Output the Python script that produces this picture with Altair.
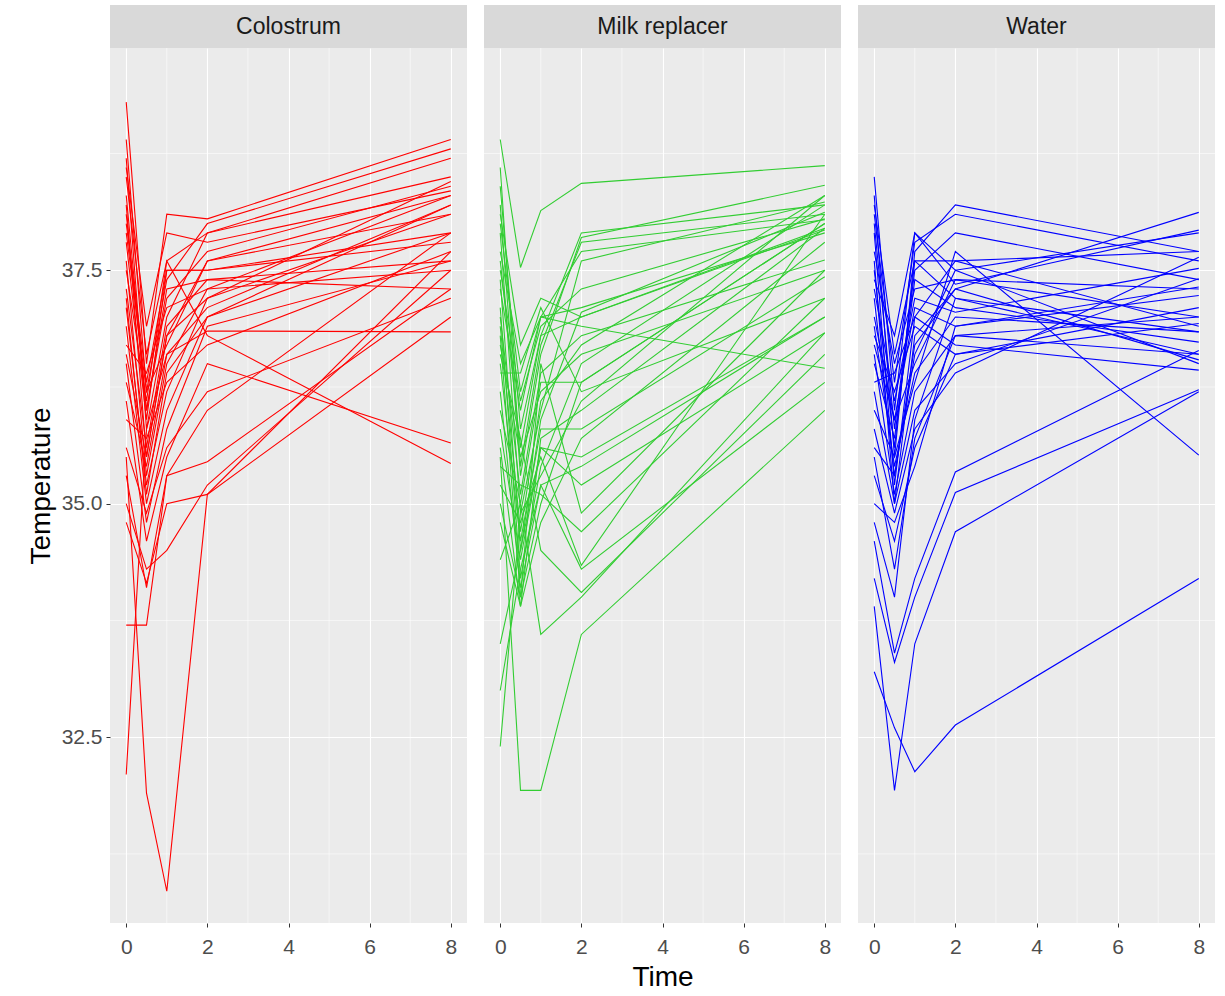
import altair as alt
import pandas as pd

# ---------------- data ----------------
times = [0, 0.5, 1, 2, 8]
groups = ["Colostrum", "Milk replacer", "Water"]
colors = ["#FF0000", "#32CD32", "#0000FF"]

colostrum = [
    [39.3, 36.5, 38.1, 38.05, 38.9],
    [38.9, 36.2, 37.4, 38.0, 38.8],
    [38.7, 35.8, 37.0, 37.9, 38.7],
    [38.5, 36.6, 37.6, 37.9, 38.5],
    [38.3, 36.0, 37.2, 37.7, 38.4],
    [38.2, 35.5, 36.8, 37.6, 38.3],
    [38.0, 36.3, 37.5, 37.5, 37.9],
    [37.8, 35.9, 37.5, 37.5, 37.8],
    [37.6, 35.3, 36.5, 37.3, 38.3],
    [37.5, 36.1, 37.6, 36.8, 35.43],
    [37.3, 35.6, 36.9, 37.4, 37.6],
    [37.1, 35.2, 36.2, 37.2, 38.1],
    [36.9, 35.0, 36.0, 37.0, 38.2],
    [36.7, 36.4, 37.1, 37.3, 37.5],
    [36.5, 34.8, 35.8, 36.9, 37.6],
    [36.3, 35.4, 36.6, 36.85, 36.84],
    [36.1, 34.6, 35.5, 36.5, 35.65],
    [35.9, 35.7, 36.3, 36.7, 37.7],
    [35.6, 34.9, 35.6, 36.2, 37.2],
    [35.3, 34.1, 35.3, 35.45, 37.3],
    [35.0, 34.3, 34.5, 35.2, 37.5],
    [33.7, 33.7, 35.3, 36.0, 37.9],
    [34.8, 34.15, 35.0, 35.1, 37.0],
    [35.5, 31.9, 30.85, 35.1, 37.7],
    [32.1, 35.8, 36.6, 37.1, 38.2],
    [38.6, 36.9, 37.9, 37.8, 38.35],
    [37.2, 35.1, 36.4, 37.0, 37.9],
    [36.6, 35.5, 36.8, 37.2, 38.45],
    [38.1, 36.0, 37.3, 37.4, 37.3],
    [37.9, 36.2, 36.7, 37.6, 38.1],
]

milk_replacer = [
    [38.9, 37.53, 38.14, 38.43, 38.62],
    [38.4, 35.8, 36.8, 37.9, 38.2],
    [38.2, 35.3, 36.6, 37.85, 38.41],
    [38.0, 36.2, 37.0, 37.7, 38.04],
    [37.9, 34.9, 36.0, 37.6, 38.23],
    [37.7, 36.5, 37.0, 37.1, 37.9],
    [37.6, 35.6, 36.8, 37.0, 37.93],
    [37.4, 34.5, 35.9, 37.05, 38.12],
    [37.3, 36.0, 37.0, 36.9, 36.45],
    [37.1, 34.2, 35.4, 36.5, 38.2],
    [37.0, 35.1, 36.4, 36.8, 37.61],
    [36.8, 34.0, 35.0, 36.3, 38.0],
    [36.7, 35.5, 36.2, 36.6, 37.5],
    [36.5, 34.6, 35.8, 35.8, 37.43],
    [36.4, 36.4, 37.1, 36.2, 37.2],
    [36.2, 34.1, 35.2, 35.4, 37.0],
    [36.0, 35.0, 36.3, 36.3, 38.0],
    [35.8, 34.4, 35.6, 35.2, 36.83],
    [35.6, 33.9, 34.8, 35.7, 37.8],
    [35.4, 35.2, 35.1, 34.7, 37.2],
    [35.2, 34.8, 35.5, 34.34, 38.1],
    [35.0, 34.0, 36.5, 34.9, 37.5],
    [34.8, 33.9, 35.7, 36.0, 37.95],
    [34.4, 35.0, 33.6, 34.0, 36.83],
    [33.5, 34.5, 35.6, 35.5, 37.0],
    [33.0, 34.3, 35.2, 34.3, 36.3],
    [32.4, 34.9, 35.3, 36.1, 38.3],
    [35.5, 31.93, 31.93, 33.6, 36.0],
    [36.6, 35.7, 34.5, 34.05, 36.6],
    [37.5, 36.1, 36.9, 37.3, 38.05],
    [38.6, 35.4, 36.7, 37.8, 38.1],
    [36.9, 34.7, 36.1, 36.7, 38.3],
    [38.1, 36.7, 37.2, 37.0, 37.95],
]

water = [
    [38.5, 36.0, 37.9, 37.5, 37.9],
    [38.3, 35.5, 37.7, 38.2, 37.7],
    [38.1, 36.3, 37.8, 38.1, 37.6],
    [38.0, 35.8, 37.5, 37.9, 37.4],
    [37.9, 35.2, 37.0, 37.6, 36.9],
    [37.7, 36.5, 37.3, 37.4, 37.3],
    [37.6, 35.0, 36.8, 37.3, 38.12],
    [37.5, 35.6, 37.6, 37.2, 36.6],
    [37.3, 36.1, 37.2, 37.05, 37.52],
    [37.2, 35.3, 36.6, 37.5, 36.5],
    [37.0, 35.9, 37.1, 36.9, 37.23],
    [36.9, 35.4, 36.4, 37.0, 36.84],
    [36.8, 36.2, 36.9, 36.6, 37.1],
    [36.6, 35.1, 36.2, 36.8, 37.0],
    [36.5, 35.7, 37.4, 37.1, 36.73],
    [36.3, 36.4, 37.0, 36.7, 36.43],
    [36.2, 35.0, 36.0, 36.5, 37.41],
    [36.0, 35.5, 36.3, 37.7, 35.52],
    [35.8, 34.9, 35.8, 36.4, 37.64],
    [35.6, 35.3, 36.7, 37.3, 36.54],
    [35.3, 34.6, 35.6, 36.6, 36.93],
    [35.0, 34.8, 35.4, 36.9, 37.32],
    [34.6, 33.4, 34.2, 35.34, 36.64],
    [34.2, 33.3, 34.0, 35.12, 36.22],
    [33.9, 31.93, 33.5, 34.7, 36.2],
    [33.2, 32.6, 32.13, 32.63, 34.2],
    [37.4, 36.8, 37.9, 37.35, 37.93],
    [36.7, 35.9, 36.5, 37.4, 37.0],
    [35.5, 34.3, 35.7, 36.8, 36.6],
    [38.2, 36.6, 37.6, 37.6, 37.7],
    [34.8, 34.0, 35.9, 37.2, 36.84],
]

x_ticks = [0, 2, 4, 6, 8]
x_minor = [1, 3, 5, 7]
y_ticks = [32.5, 35.0, 37.5]
y_minor = [31.25, 33.75, 36.25, 38.75]
x_domain = [-0.4, 8.4]
y_domain = [30.51, 39.88]

rows = []
for g, series in zip(groups, [colostrum, milk_replacer, water]):
    for i, vals in enumerate(series):
        for t, v in zip(times, vals):
            rows.append({"group": g, "animal": f"{g}-{i}", "Time": t, "Temperature": v})
df = pd.DataFrame(rows)

W, H = 357, 875
STRIP = 43
FONT = "Liberation Sans"
TICK_FS = 21
STRIP_FS = 23
TITLE_FS = 28


def panel(idx, g, col):
    sub = df[df["group"] == g]
    first = idx == 0
    xs = alt.Scale(domain=x_domain, nice=False, zero=False)
    ys = alt.Scale(domain=y_domain, nice=False, zero=False)

    x_axis = alt.Axis(
        values=x_ticks, grid=True, gridColor="white", gridWidth=1.1,
        domain=False, tickColor="#333333", tickSize=4, tickWidth=1,
        labelColor="#4D4D4D", labelFontSize=TICK_FS, labelFont=FONT, labelPadding=9,
        title="Time" if idx == 1 else None,
        titleFontSize=TITLE_FS, titleFont=FONT, titleFontWeight="normal",
        titleColor="black", titlePadding=6,
    )
    if first:
        y_axis = alt.Axis(
            values=y_ticks, format=".1f", grid=True, gridColor="white",
            gridWidth=1.1, domain=False, tickColor="#333333", tickSize=4,
            tickWidth=1, labelColor="#4D4D4D", labelFontSize=TICK_FS, labelFont=FONT,
            labelPadding=4, title="Temperature", titleFontSize=TITLE_FS,
            titleFont=FONT, titleFontWeight="normal", titleColor="black",
            titlePadding=6,
        )
    else:
        y_axis = alt.Axis(
            values=y_ticks, grid=True, gridColor="white", gridWidth=1.1,
            domain=False, ticks=False, labels=False, title=None,
        )

    vminor = alt.Chart(pd.DataFrame({"v": x_minor})).mark_rule(
        color="white", strokeWidth=0.55
    ).encode(x=alt.X("v:Q", scale=xs, axis=x_axis))
    hminor = alt.Chart(pd.DataFrame({"v": y_minor})).mark_rule(
        color="white", strokeWidth=0.55
    ).encode(y=alt.Y("v:Q", scale=ys, axis=y_axis))

    lines = alt.Chart(sub).mark_line(strokeWidth=1.1, color=col).encode(
        x=alt.X("Time:Q", scale=xs, axis=x_axis),
        y=alt.Y("Temperature:Q", scale=ys, axis=y_axis),
        detail="animal:N",
        order="Time:Q",
    )

    lab = pd.DataFrame({"label": [g]})
    strip = alt.Chart(lab).mark_rect(color="#D9D9D9").encode(
        x=alt.value(0), x2=alt.value(W), y=alt.value(-STRIP), y2=alt.value(0)
    )
    strip_text = alt.Chart(lab).mark_text(
        font=FONT, fontSize=STRIP_FS, color="#1A1A1A", baseline="middle", align="center"
    ).encode(x=alt.value(W / 2), y=alt.value(-STRIP / 2), text="label:N")

    return alt.layer(vminor, hminor, lines, strip, strip_text).properties(
        width=W, height=H
    )


chart = alt.hconcat(
    *[panel(i, g, c) for i, (g, c) in enumerate(zip(groups, colors))],
    spacing=15,
).configure_view(fill="#EBEBEB", stroke=None).properties(
    background="white", padding={"left": 27, "top": 5, "right": 5, "bottom": 0}
)

chart.save("out.html", embed_options={"renderer": "svg", "actions": False})
